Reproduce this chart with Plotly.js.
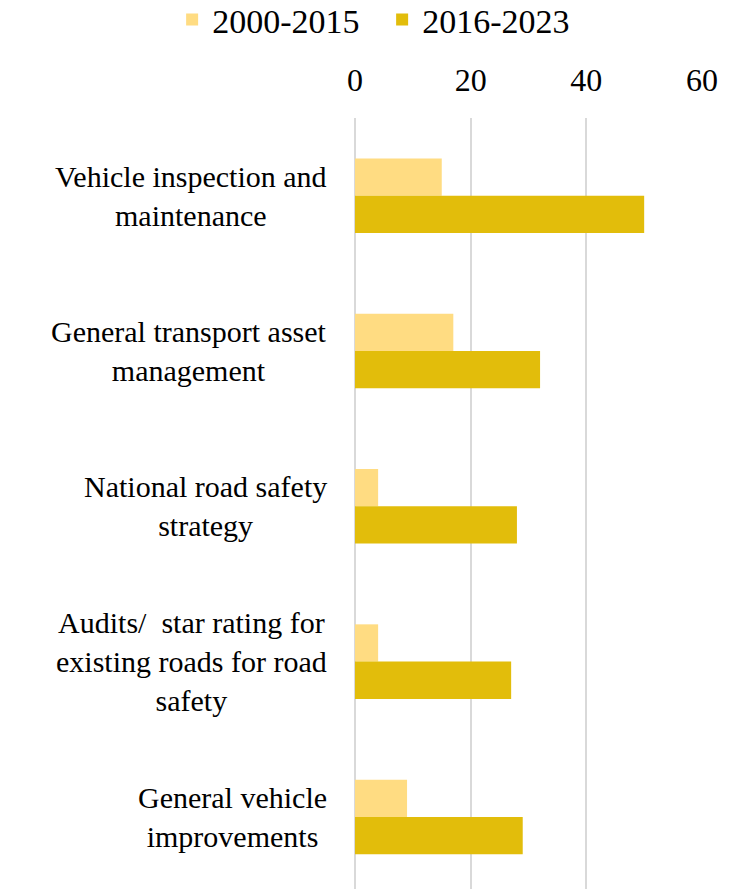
<!DOCTYPE html>
<html>
<head>
<meta charset="utf-8">
<script src="https://cdn.plot.ly/plotly-3.0.1.min.js"></script>
<style>html,body{margin:0;padding:0;background:#fff;}</style>
</head>
<body>
<div id="chart" style="width:745px;height:889px;"></div>
<script>
const categories = [
  "Vehicle inspection and<br>maintenance",
  "General transport asset<br>management",
  "National road safety<br>strategy",
  "Audits/  star rating for<br>existing roads for road<br>safety",
  "General vehicle<br>improvements"
];
const seriesNames = ["2000-2015", "2016-2023"];
const values2000_2015 = [15, 17, 4, 4, 9];
const values2016_2023 = [50, 32, 28, 27, 29];
const xTicks = [0, 20, 40, 60];

const FONT = "Liberation Serif, Times New Roman, serif";
const catIdx = categories.map((_, i) => i);

const traces = [
  {type: 'bar', orientation: 'h', name: seriesNames[0], x: values2000_2015, y: catIdx,
   marker: {color: '#FFDC82'}},
  {type: 'bar', orientation: 'h', name: seriesNames[1], x: values2016_2023, y: catIdx,
   marker: {color: '#E2BD0B'}}
];

const annotations = categories.map((c, i) => ({
  text: c, x: 0, xref: 'paper', y: i, yref: 'y',
  xanchor: 'right', yanchor: 'middle', xshift: -26, align: 'center',
  showarrow: false, font: {family: FONT, size: 30, color: '#000'}
}));

const layout = {
  width: 745, height: 889,
  margin: {l: 355, r: 43, t: 118, b: 0, pad: 0, autoexpand: false},
  paper_bgcolor: '#fff', plot_bgcolor: '#fff',
  barmode: 'group', bargap: 0.52, bargroupgap: 0,
  font: {family: FONT, size: 32, color: '#000'},
  xaxis: {side: 'top', range: [0, 60], tickvals: xTicks, ticktext: xTicks.map(String),
          showgrid: true, gridcolor: '#D9D9D9', gridwidth: 2,
          zeroline: true, zerolinecolor: '#D9D9D9', zerolinewidth: 2,
          showline: false, ticks: '', ticklabelstandoff: 20,
          tickfont: {family: FONT, size: 32, color: '#000'}},
  yaxis: {range: [4.464, -0.5], showticklabels: false, showgrid: false,
          zeroline: false, showline: false, ticks: ''},
  showlegend: true,
  legend: {orientation: 'h', x: -0.527, y: 1.165,
           xanchor: 'left', yanchor: 'top', traceorder: 'normal',
           bgcolor: 'rgba(0,0,0,0)', entrywidth: 165,
           font: {family: FONT, size: 34, color: '#000'}, itemwidth: 30},
  annotations: annotations
};

Plotly.newPlot('chart', traces, layout, {displayModeBar: false, staticPlot: true});
</script>
</body>
</html>
